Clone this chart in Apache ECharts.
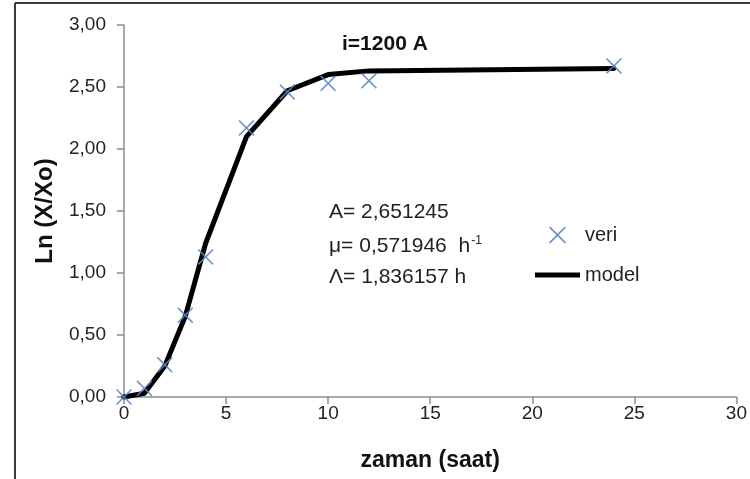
<!DOCTYPE html>
<html lang="tr">
<head>
    <meta charset="UTF-8">
    <title>i=1200 A</title>
    <script src="https://cdn.jsdelivr.net/npm/echarts@6/dist/echarts.min.js"></script>
    <style>
        html, body { margin: 0; padding: 0; background: #fff; }
    </style>
</head>
<body>
<div id="main" style="width: 750px; height: 479px;"></div>

<script type="text/javascript">
    // veri (olculen)
    var tVeri = [0, 1, 2, 3, 4, 6, 8, 10, 12, 24];
    var lnVeri = [0.00, 0.07, 0.26, 0.66, 1.13, 2.17, 2.46, 2.53, 2.55, 2.67];
    // model egrisi
    var tModel = [0, 1, 2, 3, 4, 6, 8, 10, 12, 24];
    var lnModel = [0.00, 0.03, 0.25, 0.65, 1.24, 2.10, 2.47, 2.60, 2.63, 2.65];
    var xTicks = [0, 5, 10, 15, 20, 25, 30];
    var yTicks = [0, 0.5, 1, 1.5, 2, 2.5, 3];

    var font = 'Liberation Sans';
    var crossPath = 'path://M0,1.4L1.4,0L10,8.6L18.6,0L20,1.4L11.4,10L20,18.6L18.6,20L10,11.4L1.4,20L0,18.6L8.6,10Z';
    var barPath = 'path://M0,0H45V5H0Z';

    function pairs(xs, ys) {
        var out = [];
        for (var i = 0; i < xs.length; i++) {
            out.push([xs[i], ys[i]]);
        }
        return out;
    }

    var myChart = echarts.init(document.getElementById('main'));
    myChart.setOption({
        animation: false,
        title: {
            text: 'i=1200 A',
            left: 337,
            top: 29,
            textStyle: { fontFamily: font, fontSize: 21, fontWeight: 'bold', color: '#111' }
        },
        legend: {
            orient: 'vertical',
            left: 535,
            top: 225,
            itemWidth: 45,
            itemHeight: 17,
            itemGap: 20,
            padding: 0,
            textStyle: { fontFamily: font, fontSize: 20, color: '#222' },
            data: [
                { name: 'veri', icon: crossPath },
                { name: 'model', icon: barPath }
            ]
        },
        grid: { left: 124, right: 13, top: 25, bottom: 82 },
        xAxis: {
            type: 'value',
            min: xTicks[0],
            max: xTicks[xTicks.length - 1],
            interval: 5,
            name: 'zaman (saat)',
            nameLocation: 'middle',
            nameGap: 52,
            nameTextStyle: { fontFamily: font, fontSize: 23, fontWeight: 'bold', color: '#111' },
            axisLine: { lineStyle: { color: '#8c8c8c', width: 1.5 } },
            axisTick: { length: 7, lineStyle: { color: '#8c8c8c', width: 1.5 } },
            axisLabel: { margin: 7, fontFamily: font, fontSize: 19, color: '#222' },
            splitLine: { show: false }
        },
        yAxis: {
            type: 'value',
            min: yTicks[0],
            max: yTicks[yTicks.length - 1],
            interval: 0.5,
            name: 'Ln (X/Xo)',
            nameLocation: 'middle',
            nameGap: 67,
            nameTextStyle: { fontFamily: font, fontSize: 24, fontWeight: 'bold', color: '#111' },
            axisLine: { show: true, lineStyle: { color: '#8c8c8c', width: 1.5 } },
            axisTick: { show: true, length: 7, lineStyle: { color: '#8c8c8c', width: 1.5 } },
            axisLabel: {
                margin: 18,
                fontFamily: font,
                fontSize: 19,
                color: '#222',
                formatter: function (v) { return v.toFixed(2).replace('.', ','); }
            },
            splitLine: { show: false }
        },
        graphic: [
            { type: 'line', shape: { x1: 15, y1: 3, x2: 15, y2: 479 }, style: { stroke: '#3a3a3a', lineWidth: 2 } },
            { type: 'line', shape: { x1: 15, y1: 3, x2: 750, y2: 3 }, style: { stroke: '#3a3a3a', lineWidth: 2 } },
            {
                type: 'text', left: 329, top: 202,
                style: { text: 'A= 2,651245', font: '21px ' + font, fill: '#222' }
            },
            {
                type: 'text', left: 329, top: 235,
                style: {
                    text: '{n|μ= 0,571946  h}{s|-1}',
                    fill: '#222',
                    rich: {
                        n: { fontFamily: font, fontSize: 21, fill: '#222' },
                        s: { fontFamily: font, fontSize: 12, fill: '#222', padding: [0, 0, 10, 1] }
                    }
                }
            },
            {
                type: 'text', left: 329, top: 267,
                style: { text: 'Λ= 1,836157 h', font: '21px ' + font, fill: '#222' }
            }
        ],
        series: [
            {
                name: 'model',
                type: 'line',
                data: pairs(tModel, lnModel),
                showSymbol: false,
                symbol: 'none',
                lineStyle: { color: '#000', width: 5, cap: 'round', join: 'round' },
                itemStyle: { color: '#000' },
                z: 2
            },
            {
                name: 'veri',
                type: 'scatter',
                data: pairs(tVeri, lnVeri),
                symbol: crossPath,
                symbolSize: 16,
                symbolKeepAspect: true,
                itemStyle: { color: '#5b86c4', opacity: 0.9 },
                z: 3
            }
        ]
    });
</script>
</body>
</html>
